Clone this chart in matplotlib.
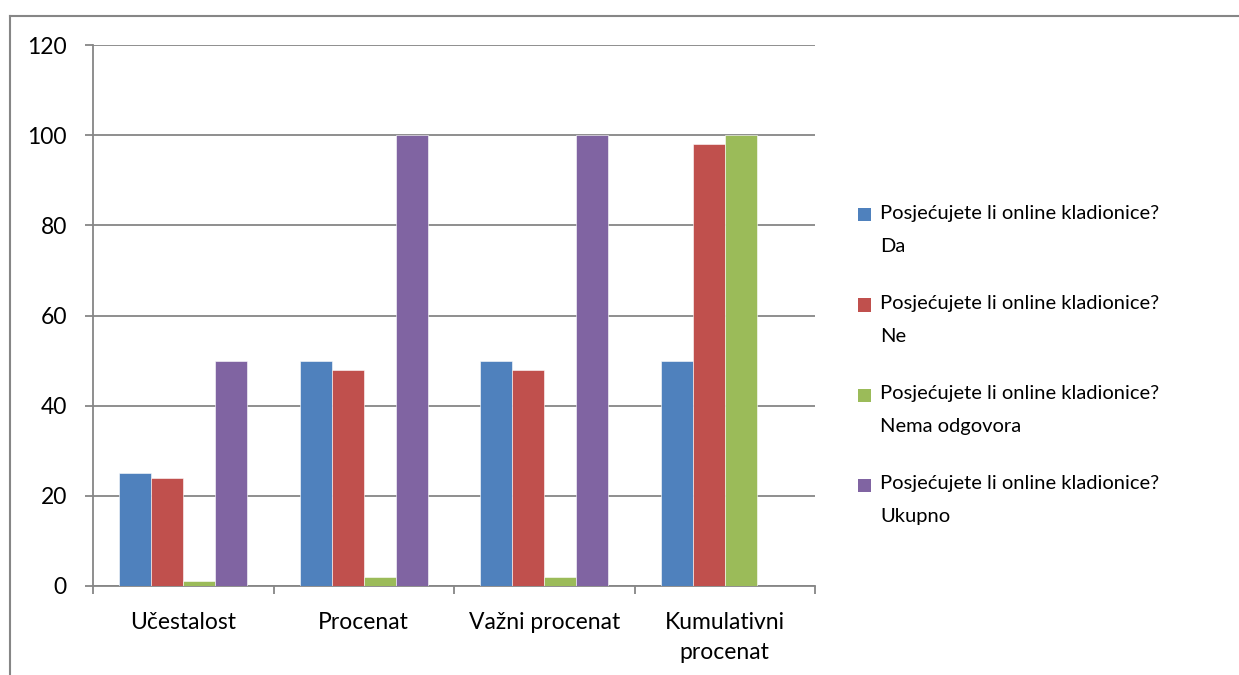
import matplotlib.pyplot as plt
import matplotlib.patches as mpatches
from matplotlib.lines import Line2D
import numpy as np

# ── data ──────────────────────────────────────────────────────────────────────
CATEGORIES = ["Učestalost", "Procenat", "Važni procenat", "Kumulativni\nprocenat"]
DA      = [25, 50, 50, 50]
NE      = [24, 48, 48, 98]
NEMA    = [1, 2, 2, 100]
UKUPNO  = [50, 100, 100, np.nan]

SERIES = [
    ("Posjećujete li online kladionice?\nDa", DA),
    ("Posjećujete li online kladionice?\nNe", NE),
    ("Posjećujete li online kladionice?\nNema odgovora", NEMA),
    ("Posjećujete li online kladionice?\nUkupno", UKUPNO),
]
COLORS = ["#4F81BD", "#C0504D", "#9BBB59", "#8064A2"]
GRID = "#868686"
FS_AX = 16.5
FS_LEG = 14.5

plt.rcParams["font.family"] = ["Lato", "DejaVu Sans"]

W, H = 1239, 675
fig = plt.figure(figsize=(W / 100, H / 100), dpi=100)
ax = fig.add_axes([93 / W, 1 - 586 / H, (815 - 93) / W, (586 - 45) / H])

# ── bars ──────────────────────────────────────────────────────────────────────
x = np.arange(len(CATEGORIES))
width = 0.177
for i, ((label, vals), col) in enumerate(zip(SERIES, COLORS)):
    ax.bar(x + (i - 1.5) * width, vals, width, color=col,
           edgecolor="white", linewidth=0.4, zorder=3)

ax.set_xlim(-0.5, len(CATEGORIES) - 0.5)
ax.set_ylim(0, 120)
ax.set_yticks(range(0, 121, 20))
ax.yaxis.grid(True, color=GRID, linewidth=1.3, zorder=0)
ax.set_axisbelow(True)

for s in ["top", "right"]:
    ax.spines[s].set_visible(False)
for s in ["left", "bottom"]:
    ax.spines[s].set_color(GRID)
    ax.spines[s].set_linewidth(1.3)

ax.set_xticks(np.arange(-0.5, len(CATEGORIES), 1.0))
ax.set_xticklabels([])
ax.set_xticks(x, minor=True)
ax.set_xticklabels(CATEGORIES, minor=True, fontsize=FS_AX, linespacing=1.5)
ax.tick_params(axis="x", which="major", length=5.8, width=1.3, color=GRID, direction="out")
ax.tick_params(axis="x", which="minor", length=0, pad=19)
ax.tick_params(axis="y", length=5.8, width=1.3, color=GRID, direction="out",
               labelsize=FS_AX, pad=13)

# ── legend (manual, Excel style) ──────────────────────────────────────────────
for i, ((label, _), col) in enumerate(zip(SERIES, COLORS)):
    yc = 215 + i * 90
    fig.patches.append(mpatches.Rectangle((858 / W, 1 - (yc + 6.5) / H), 13 / W, 13 / H,
                                          transform=fig.transFigure, facecolor=col,
                                          edgecolor="none"))
    fig.text(880 / W, 1 - (yc - 10) / H, label, fontsize=FS_LEG, va="top", ha="left",
             linespacing=2.15)

# ── chart frame ───────────────────────────────────────────────────────────────
fig.add_artist(Line2D([9.5 / W, 1.0], [1 - 15.5 / H] * 2, color=GRID, linewidth=1.5,
                      transform=fig.transFigure))
fig.add_artist(Line2D([9.5 / W] * 2, [0.0, 1 - 15.5 / H], color=GRID, linewidth=1.5,
                      transform=fig.transFigure))

fig.savefig("out.png", dpi=100)
